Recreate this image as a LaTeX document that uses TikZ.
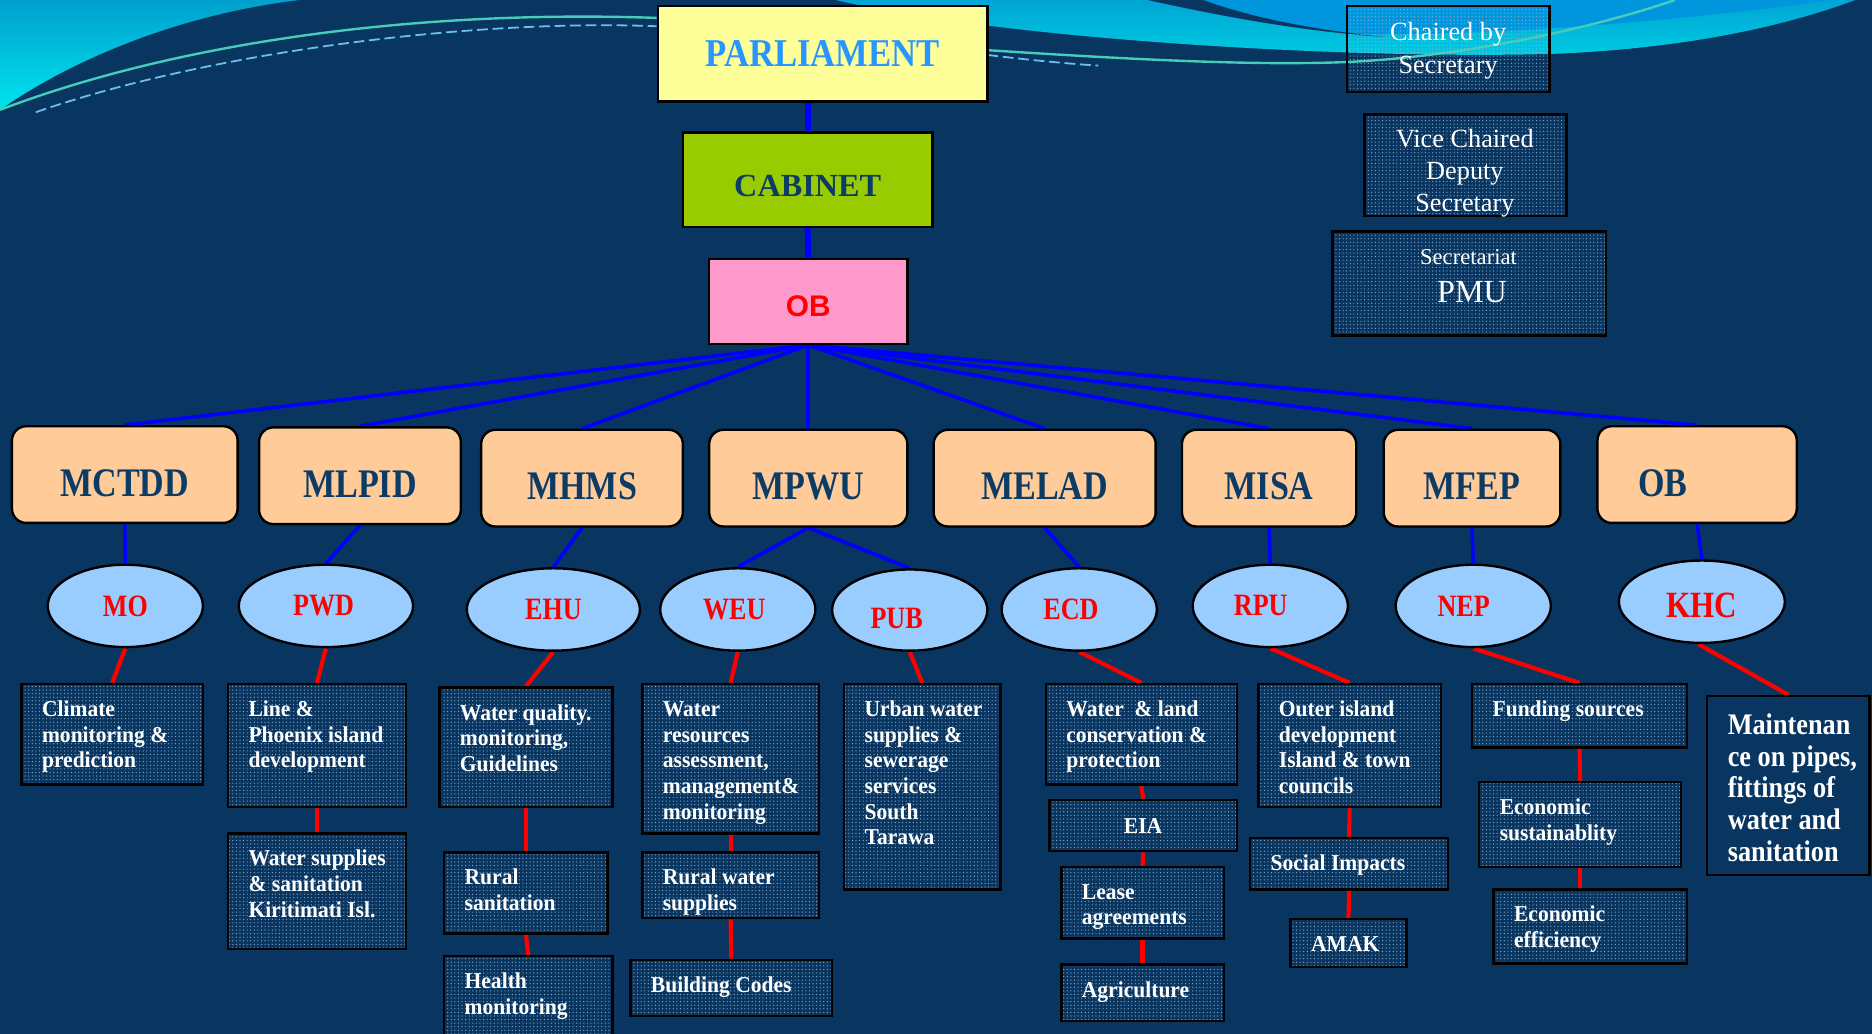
\documentclass[tikz,border=0pt]{standalone}
\usepackage{fontspec}
\setmainfont{Liberation Serif}
\newfontfamily\condA{Liberation Serif}[FakeStretch=0.88]
\newfontfamily\condB{Liberation Serif}[FakeStretch=0.95]
\newfontfamily\condC{Liberation Serif}[FakeStretch=0.84]
\newfontfamily\sansf{Liberation Sans}
\usetikzlibrary{shapes.geometric,patterns}

\definecolor{bgnavy}{RGB}{9,54,97}
\definecolor{parlfill}{RGB}{255,255,153}
\definecolor{parlblue}{RGB}{40,150,255}
\definecolor{cabfill}{RGB}{153,204,0}
\definecolor{obfill}{RGB}{255,153,204}
\definecolor{minfill}{RGB}{255,204,153}
\definecolor{ellfill}{RGB}{153,204,255}
\definecolor{navytext}{RGB}{12,59,102}
\definecolor{dotc}{RGB}{150,180,210}
\definecolor{linkblue}{RGB}{0,0,255}
\definecolor{linkred}{RGB}{255,0,0}
\definecolor{swtop}{RGB}{0,160,205}
\definecolor{swbot}{RGB}{0,228,238}
\definecolor{bandtop}{RGB}{0,165,212}
\definecolor{bandbot}{RGB}{0,205,226}
\definecolor{swblue}{RGB}{0,150,222}
\definecolor{lineg}{RGB}{70,205,185}
\definecolor{dashc}{RGB}{110,190,235}

\pgfdeclarelayer{back}
\pgfdeclarelayer{lines}
\pgfsetlayers{back,lines,main}

\newcommand\lowr[2]{\raisebox{-#1pt}[\height][\depth]{#2}}
\newcommand\tbox[6]{%
  \node[tb, minimum width={#4-#2}, minimum height={#5-#3}] (#1) at ({(#2+#4)/2},{(#3+#5)/2}) {};
  \node[tbt, anchor=north west] (#1t) at ({#2+17},{#3+12}) {\rule{0pt}{15pt}#6};
}
\newcommand\tboxonly[5]{%
  \node[tb, minimum width={#4-#2}, minimum height={#5-#3}] (#1) at ({(#2+#4)/2},{(#3+#5)/2}) {};
}

\begin{document}
\begin{tikzpicture}[x=1pt,y=-1pt,
  pbox/.style={draw=black, line width=2pt, inner sep=0pt},
  mbox/.style={draw=black, line width=2pt, fill=minfill, rounded corners=12pt, inner sep=0pt,
    minimum height=81pt, font=\condC\bfseries\fontsize{34}{38}\selectfont, text=navytext},
  ell/.style={ellipse, draw=black, line width=2pt, fill=ellfill, inner sep=0pt,
    minimum width=130pt, minimum height=69pt, font=\condC\bfseries\fontsize{26}{30}\selectfont, text=linkred},
  tb/.style={draw=black, line width=2pt, pattern=dots, pattern color=dotc, inner sep=0pt},
  tbt/.style={inner sep=0pt, align=left, text=white, font=\condB\bfseries\fontsize{19}{21.5}\selectfont},
  wt/.style={inner sep=0pt, align=center, text=white, font=\fontsize{22}{27}\selectfont},
  bl5/.style={draw=linkblue, line width=5pt},
  bl3/.style={draw=linkblue, line width=3pt},
  rd/.style={draw=linkred, line width=3.5pt},
]
\useasboundingbox (0,0) rectangle (1568,866);

\begin{pgfonlayer}{back}
\fill[bgnavy] (0,0) rectangle (1568,866);
% top-left swoosh
\shade[top color=swtop, bottom color=swbot] (0,0) -- (251,0) .. controls (150,12) and (60,50) .. (0,92) -- cycle;
% top-right band
\shade[top color=bandtop, bottom color=bandbot] (700,0) .. controls (850,35) and (1150,50) .. (1304,45) .. controls (1420,40) and (1500,20) .. (1554,0) -- cycle;
\fill[swblue] (1008,0) .. controls (1060,18) and (1100,28) .. (1150,29) .. controls (1300,28) and (1450,12) .. (1533,0) -- cycle;
\fill[bgnavy] (961,0) .. controls (1030,15) and (1090,26) .. (1160,31) .. controls (1090,24) and (1040,12) .. (1008,0) -- cycle;
% thin lines
\draw[lineg, line width=2pt] (0,92) .. controls (150,35) and (350,8) .. (550,15);
\draw[dashc, line width=1.5pt, dash pattern=on 9pt off 4pt] (30,94) .. controls (180,42) and (400,16) .. (550,22);
\draw[lineg, line width=2pt] (827,42) .. controls (950,50) and (1050,55) .. (1127,52) .. controls (1220,48) and (1330,25) .. (1403,0);
\draw[dashc, line width=1.5pt, dash pattern=on 9pt off 4pt] (827,46) .. controls (860,50) and (890,53) .. (920,55);
\end{pgfonlayer}

% top chain
\node[pbox, fill=parlfill, minimum width=276pt, minimum height=80pt,
  font=\condA\bfseries\fontsize{33}{36}\selectfont, text=parlblue] (parl) at (689,45) {PARLIAMENT};
\node[pbox, fill=cabfill, minimum width=209pt, minimum height=79pt,
  font=\bfseries\fontsize{27}{30}\selectfont, text=navytext] (cab) at (676.5,150.5) {\lowr{5}{CABINET}};
\node[pbox, fill=obfill, minimum width=166pt, minimum height=71pt,
  font=\sansf\bfseries\fontsize{25}{28}\selectfont, text=linkred] (ob) at (677,252.5) {\lowr{4}{OB}};

% right info boxes
\node[tb, minimum width=170pt, minimum height=72pt] (chair) at (1213,41) {};
\node[wt] (chairt) at (1213,42.5) {Chaired by\\Secretary};
\node[tb, minimum width=169pt, minimum height=85pt] (vice) at (1227.5,138.5) {};
\node[wt] (vicet) at (1227,145) {Vice Chaired\\Deputy\\Secretary};
\node[tb, minimum width=229pt, minimum height=87pt] (secr) at (1230.5,237.5) {};
\node[inner sep=0pt, text=white, font=\fontsize{19}{22}\selectfont, anchor=base] (secrt) at (1230,221.5) {Secretariat};
\node[inner sep=0pt, text=white, font=\fontsize{27}{30}\selectfont, anchor=base] (pmut) at (1233,253) {PMU};

% ministries
\node[mbox, minimum width=189pt] (mctdd) at (104.5,397.5) {\lowr{7}{MCTDD}};
\node[mbox, minimum width=169pt] (mlpid) at (301.5,398.5) {\lowr{7}{MLPID}};
\node[mbox, minimum width=169pt] (mhms) at (487.5,400.5) {\lowr{7}{MHMS}};
\node[mbox, minimum width=166pt] (mpwu) at (677,400.5) {\lowr{7}{MPWU}};
\node[mbox, minimum width=186pt] (melad) at (875,400.5) {\lowr{7}{MELAD}};
\node[mbox, minimum width=146pt] (misa) at (1063,400.5) {\lowr{7}{MISA}};
\node[mbox, minimum width=148pt] (mfep) at (1233,400.5) {\lowr{7}{MFEP}};
\node[mbox, minimum width=167pt] (obb) at (1421.5,397.5) {\lowr{7}{OB}\hspace*{57pt}};

% units
\node[ell] (mo) at (105,507.5) {MO};
\node[ell, minimum width=146pt] (pwd) at (273,507.5) {PWD\hspace*{4pt}};
\node[ell, minimum width=145pt] (ehu) at (463.5,510.5) {EHU};
\node[ell] (weu) at (618,510.5) {WEU\hspace*{6pt}};
\node[ell, minimum height=68pt] (pub) at (762,511) {\lowr{7}{PUB}\hspace*{22pt}};
\node[ell] (ecd) at (904,510.5) {ECD\hspace*{14pt}};
\node[ell] (rpu) at (1064,507.5) {RPU\hspace*{16pt}};
\node[ell] (nep) at (1234,507.5) {NEP\hspace*{16pt}};
\node[ell, minimum width=139pt, font=\condC\bfseries\fontsize{31}{34}\selectfont] (khc) at (1425.5,504) {\lowr{3}{KHC}};

% task boxes
\tbox{clim}{18}{573}{170}{657}{Climate\\monitoring \&\\prediction}
\tbox{line}{191}{573}{340}{676}{Line \&\\Phoenix island\\development}
\tbox{wsup}{191}{698}{340}{795}{Water supplies\\\& sanitation\\Kiritimati Isl.}
\tbox{wq}{368}{576}{513}{676}{Water quality.\\monitoring,\\Guidelines}
\tbox{rsan}{372}{714}{509}{782}{Rural\\sanitation}
\tbox{hlth}{372}{801}{513}{880}{Health\\monitoring}
\tbox{wres}{538}{573}{686}{698}{Water\\resources\\assessment,\\management\&\\monitoring}
\tbox{rws}{538}{714}{686}{769}{Rural water\\supplies}
\tbox{bcode}{528}{804}{697}{851}{Building Codes}
\tbox{urban}{707}{573}{838}{745}{Urban water\\supplies \&\\sewerage\\services\\South\\Tarawa}
\tbox{wland}{876}{573}{1036}{657}{Water~ \& land\\conservation \&\\protection}
\tboxonly{eia}{879}{670}{1036}{713}
\node[tbt] (eiat) at (eia.center) {EIA};
\tbox{lease}{889}{726}{1025}{786}{Lease\\agreements}
\tbox{agri}{889}{808}{1025}{855}{Agriculture}
\tbox{outer}{1054}{573}{1207}{676}{Outer island\\development\\Island \& town\\councils}
\tbox{social}{1047}{702}{1213}{745}{Social Impacts}
\tbox{amak}{1081}{770}{1178}{810}{AMAK}
\tbox{fund}{1233}{573}{1413}{626}{Funding sources}
\tbox{esus}{1239}{655}{1408}{726}{Economic\\sustainablity}
\tbox{eeff}{1251}{745}{1413}{807}{Economic\\efficiency}
\node[draw=black, line width=2pt, fill=bgnavy, inner sep=0pt, minimum width=136pt, minimum height=150pt] (maint) at (1498,658) {};
\node[inner sep=0pt, align=left, text=white, font=\condA\bfseries\fontsize{25}{26.6}\selectfont, anchor=north west] (maintt) at (1447,595) {\rule{0pt}{20pt}Maintenan\\ce on pipes,\\fittings of\\water and\\sanitation};

\begin{pgfonlayer}{lines}
\draw[bl5] (cab.north) -- (cab.north |- parl.south);
\draw[bl5] (cab.south) -- (ob.north);
\foreach \m in {mctdd,mlpid,mhms,mpwu,melad,misa,mfep,obb} \draw[bl3] (ob.south) -- (\m.north);
\draw[bl3] (mctdd.south) -- (mo.north);
\draw[bl3] (mlpid.south) -- (pwd.north);
\draw[bl3] (mhms.south) -- (ehu.north);
\draw[bl3] (mpwu.south) -- (weu.north);
\draw[bl3] (mpwu.south) -- (pub.north);
\draw[bl3] (melad.south) -- (ecd.north);
\draw[bl3] (misa.south) -- (rpu.north);
\draw[bl3] (mfep.south) -- (nep.north);
\draw[bl3] (obb.south) -- (khc.north);
\draw[rd] (mo.south) -- (clim.north);
\draw[rd] (pwd.south) -- (line.north);
\draw[rd] (ehu.south) -- (wq.north);
\draw[rd] (weu.south) -- (wres.north);
\draw[rd] (pub.south) -- (urban.north);
\draw[rd] (ecd.south) -- (wland.north);
\draw[rd] (rpu.south) -- (outer.north);
\draw[rd] (nep.south) -- (fund.north);
\draw[rd] (khc.265) -- (maint.north);
\draw[rd] (line.south) -- (wsup.north);
\draw[rd] (wq.south) -- (rsan.north);
\draw[rd] (rsan.south) -- (hlth.north);
\draw[rd] (wres.south) -- (rws.north);
\draw[rd] (rws.south) -- (bcode.north);
\draw[rd] (wland.south) -- (eia.north);
\draw[rd] (eia.south) -- (lease.north);
\draw[rd] (lease.south) -- (agri.north);
\draw[rd] (outer.south) -- (social.north);
\draw[rd] (social.south) -- (amak.north);
\draw[rd] (fund.south) -- (esus.north);
\draw[rd] (esus.south) -- (esus.south |- eeff.north);
\end{pgfonlayer}
\end{tikzpicture}
\end{document}
